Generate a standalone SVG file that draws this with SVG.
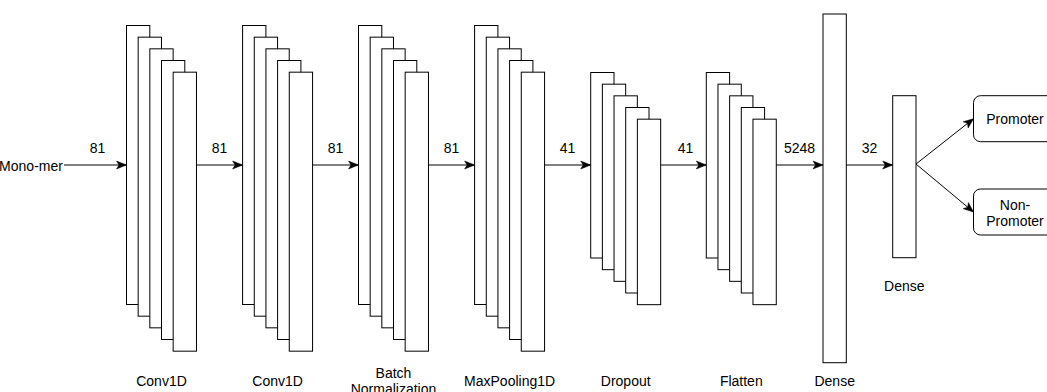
<svg xmlns="http://www.w3.org/2000/svg" width="1047" height="392" viewBox="0 0 1047 392">
<defs>
<style>
.r{fill:#fff;stroke:#000;stroke-width:1}
.t{font-family:"Liberation Sans",Arial,sans-serif;font-size:14px;fill:#000;text-anchor:middle}
.e{stroke:#000;stroke-width:1;fill:none;marker-end:url(#ah)}
</style>
<marker id="ah" markerUnits="userSpaceOnUse" markerWidth="10" markerHeight="8" refX="10" refY="4" orient="auto" overflow="visible">
<path d="M0,0 L10,4 L0,8 L2.5,4 Z" fill="#000" stroke="#000" stroke-width="0.5"/>
</marker>
<g id="bigstack">
<rect class="r" x="0" y="0" width="23.3" height="279"/>
<rect class="r" x="11.67" y="11.67" width="23.3" height="279"/>
<rect class="r" x="23.33" y="23.33" width="23.3" height="279"/>
<rect class="r" x="35" y="35" width="23.3" height="279"/>
<rect class="r" x="46.67" y="46.67" width="23.3" height="279"/>
</g>
<g id="smallstack">
<rect class="r" x="0" y="0" width="23.3" height="185.5"/>
<rect class="r" x="11.67" y="11.67" width="23.3" height="185.5"/>
<rect class="r" x="23.33" y="23.33" width="23.3" height="185.5"/>
<rect class="r" x="35" y="35" width="23.3" height="185.5"/>
<rect class="r" x="46.67" y="46.67" width="23.3" height="185.5"/>
</g>
</defs>
<rect x="0" y="0" width="1047" height="392" fill="#fff"/>

<g id="input">
<text class="t" x="31" y="170.5">Mono-mer</text>
</g>

<g id="conv1d-1">
<use href="#bigstack" x="126.5" y="25.5"/>
<text class="t" x="161.5" y="385.5">Conv1D</text>
</g>
<g id="conv1d-2">
<use href="#bigstack" x="242.6" y="25.5"/>
<text class="t" x="277.6" y="385.5">Conv1D</text>
</g>
<g id="batchnorm">
<use href="#bigstack" x="358.5" y="25.5"/>
<text class="t" x="393.5" y="377.5">Batch</text>
<text class="t" x="393.5" y="393.5">Normalization</text>
</g>
<g id="maxpool">
<use href="#bigstack" x="474.6" y="25.5"/>
<text class="t" x="509.6" y="385.5">MaxPooling1D</text>
</g>
<g id="dropout">
<use href="#smallstack" x="590.7" y="72.5"/>
<text class="t" x="625.7" y="385.5">Dropout</text>
</g>
<g id="flatten">
<use href="#smallstack" x="706.3" y="72.5"/>
<text class="t" x="741.3" y="385.5">Flatten</text>
</g>
<g id="dense-1">
<rect class="r" x="823" y="14" width="23.3" height="348.7"/>
<text class="t" x="834.7" y="385.5">Dense</text>
</g>
<g id="dense-2">
<rect class="r" x="892.7" y="95.7" width="23.3" height="162"/>
<text class="t" x="904.3" y="290.5">Dense</text>
</g>
<g id="promoter">
<rect class="r" x="973.5" y="95.7" width="83" height="46" rx="7" ry="7"/>
<text class="t" x="1015" y="124">Promoter</text>
</g>
<g id="non-promoter">
<rect class="r" x="973.5" y="189" width="83" height="46" rx="7" ry="7"/>
<text class="t" x="1015" y="209.5">Non-</text>
<text class="t" x="1015" y="225.5">Promoter</text>
</g>

<g id="connectors">
<line class="e" x1="64" y1="165" x2="126.5" y2="165"/>
<line class="e" x1="196.5" y1="165" x2="242.6" y2="165"/>
<line class="e" x1="312.6" y1="165" x2="358.5" y2="165"/>
<line class="e" x1="428.5" y1="165" x2="474.6" y2="165"/>
<line class="e" x1="544.6" y1="165" x2="590.7" y2="165"/>
<line class="e" x1="660.7" y1="165" x2="706.3" y2="165"/>
<line class="e" x1="776.3" y1="165" x2="823" y2="165"/>
<line class="e" x1="846.3" y1="165" x2="892.7" y2="165"/>
<line class="e" x1="916" y1="164" x2="973.5" y2="118.7"/>
<line class="e" x1="916" y1="164" x2="973.5" y2="212"/>
<text class="t" x="97.5" y="153">81</text>
<text class="t" x="219.5" y="153">81</text>
<text class="t" x="335.5" y="153">81</text>
<text class="t" x="451.5" y="153">81</text>
<text class="t" x="567.5" y="153">41</text>
<text class="t" x="685.5" y="153">41</text>
<text class="t" x="799.5" y="153">5248</text>
<text class="t" x="869.5" y="153">32</text>
</g>
</svg>
